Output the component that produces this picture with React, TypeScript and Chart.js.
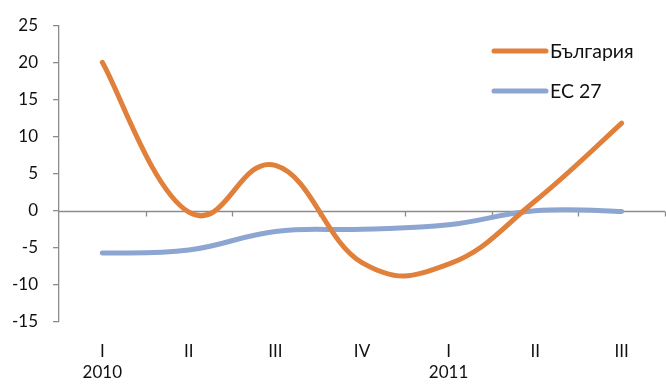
import React, { useEffect, useRef } from "react";
import { Chart, registerables } from "chart.js";

Chart.register(...registerables);

// Quarter labels, with the year shown under the first quarter of each year
const quarters = ["I", "II", "III", "IV", "I", "II", "III"];
const years = ["2010", "", "", "", "2011", "", ""];

const bulgaria = [20, -0.2, 6.1, -7.0, -7.2, 1.3, 11.8];
const eu27 = [-5.7, -5.3, -2.8, -2.5, -1.9, 0.0, -0.1];

const seriesNames = ["България", "ЕС 27"];
const seriesColors = ["#E0803A", "#8CA5D1"];

const yMin = -15;
const yMax = 25;
const yStep = 5;

const FONT = "Lato, 'Open Sans', sans-serif";
const AXIS_GRAY = "#8C8C8C";

// Smoothing strength of the Catmull-Rom style curve
const SMOOTH = 0.21;

// Evenly weighted spline control points (instead of distance-weighted ones)
const evenSplinePlugin = {
  id: "evenSpline",
  beforeDatasetsDraw(chart: any) {
    chart.data.datasets.forEach((_: any, di: number) => {
      const meta = chart.getDatasetMeta(di);
      const pts = meta.data;
      const n = pts.length;
      for (let i = 0; i < n; i++) {
        const p = pts[i];
        const prev = pts[Math.max(i - 1, 0)];
        const next = pts[Math.min(i + 1, n - 1)];
        const dx = next.x - prev.x;
        const dy = next.y - prev.y;
        p.cp1x = p.x - SMOOTH * dx;
        p.cp1y = p.y - SMOOTH * dy;
        p.cp2x = p.x + SMOOTH * dx;
        p.cp2y = p.y + SMOOTH * dy;
      }
      if (meta.dataset) {
        meta.dataset._pointsUpdated = true;
        meta.dataset._path = undefined;
      }
    });
  },
};

// Axis line at zero with small category-boundary tick marks below it
const zeroAxisPlugin = {
  id: "zeroAxis",
  beforeDatasetsDraw(chart: any) {
    const { ctx, chartArea, scales } = chart;
    const x = scales.x;
    const y0 = Math.round(scales.y.getPixelForValue(0)) + 0.5;
    const n = chart.data.labels.length;
    const step = x.getPixelForValue(1) - x.getPixelForValue(0);
    ctx.save();
    ctx.strokeStyle = AXIS_GRAY;
    ctx.lineWidth = 1.3;
    ctx.beginPath();
    ctx.moveTo(chartArea.left, y0);
    ctx.lineTo(chartArea.right, y0);
    for (let i = 1; i <= n; i++) {
      const bx = Math.round(x.getPixelForValue(i) - step / 2) + 0.5;
      ctx.moveTo(bx, y0);
      ctx.lineTo(bx, y0 + 5);
    }
    ctx.stroke();
    ctx.restore();
  },
};

// Legend drawn inside the plot area, one entry per row
const insideLegendPlugin = {
  id: "insideLegend",
  afterDatasetsDraw(chart: any) {
    const { ctx } = chart;
    const x1 = 494;
    const x2 = 546;
    const rows = [51, 91];
    ctx.save();
    chart.data.datasets.forEach((ds: any, i: number) => {
      const yy = rows[i];
      ctx.strokeStyle = ds.borderColor;
      ctx.lineWidth = 5;
      ctx.lineCap = "round";
      ctx.beginPath();
      ctx.moveTo(x1, yy);
      ctx.lineTo(x2, yy);
      ctx.stroke();
      ctx.fillStyle = "#111";
      ctx.font = `19.5px ${FONT}`;
      ctx.textAlign = "left";
      ctx.textBaseline = "middle";
      ctx.fillText(ds.label, x2 + 4, yy + 1);
    });
    ctx.restore();
  },
};

export default function App() {
  const canvasRef = useRef<HTMLCanvasElement | null>(null);

  useEffect(() => {
    if (!canvasRef.current) return;
    const labels = quarters.map((q, i) => [q, years[i]]);
    const chart = new Chart(canvasRef.current, {
      type: "line",
      data: {
        labels,
        datasets: [
          {
            label: seriesNames[0],
            data: bulgaria,
            borderColor: seriesColors[0],
            backgroundColor: seriesColors[0],
            borderWidth: 5,
            borderCapStyle: "round",
            pointRadius: 0,
            tension: 0.4,
          },
          {
            label: seriesNames[1],
            data: eu27,
            borderColor: seriesColors[1],
            backgroundColor: seriesColors[1],
            borderWidth: 5,
            borderCapStyle: "round",
            pointRadius: 0,
            tension: 0.4,
          },
        ],
      },
      options: {
        animation: false,
        responsive: false,
        maintainAspectRatio: false,
        devicePixelRatio: 1,
        layout: { padding: { top: 24, right: 1, left: 0, bottom: 0 } },
        plugins: {
          legend: { display: false },
          tooltip: { enabled: false },
        },
        scales: {
          x: {
            type: "category",
            offset: true,
            grid: { display: false, drawTicks: false },
            border: { display: false },
            ticks: {
              color: "#111",
              font: { family: FONT, size: 17, lineHeight: 1.25 },
              padding: 19,
              maxRotation: 0,
              autoSkip: false,
            },
            afterFit: (scale: any) => {
              scale.height = 63;
            },
          },
          y: {
            min: yMin,
            max: yMax,
            ticks: {
              stepSize: yStep,
              color: "#111",
              font: { family: FONT, size: 17 },
              padding: 15,
            },
            grid: {
              display: true,
              drawOnChartArea: false,
              drawTicks: true,
              tickLength: 6,
              color: AXIS_GRAY,
              lineWidth: 1.3,
            },
            border: { display: true, color: AXIS_GRAY, width: 1.3 },
            afterFit: (scale: any) => {
              scale.width = 59;
            },
          },
        },
      },
      plugins: [evenSplinePlugin, zeroAxisPlugin, insideLegendPlugin],
    } as any);
    return () => chart.destroy();
  }, []);

  return (
    <div style={{ position: "fixed", left: 0, top: 0, width: 666, height: 385, background: "#fff" }}>
      <canvas ref={canvasRef} width={666} height={385} style={{ width: 666, height: 385 }} />
    </div>
  );
}
